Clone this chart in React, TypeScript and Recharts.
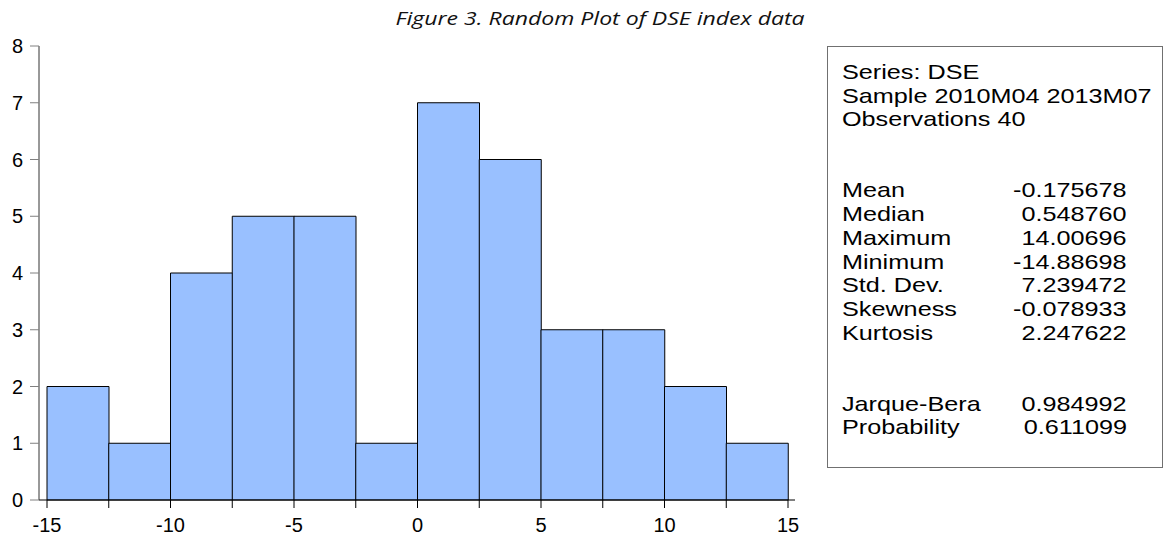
import { BarChart, Bar, XAxis, YAxis } from 'recharts';

const binLabels = ['-15', '-12.5', '-10', '-7.5', '-5', '-2.5', '0', '2.5', '5', '7.5', '10', '12.5'];
const binMids = [-13.75, -11.25, -8.75, -6.25, -3.75, -1.25, 1.25, 3.75, 6.25, 8.75, 11.25, 13.75];
const counts = [2, 1, 4, 5, 5, 1, 7, 6, 3, 3, 2, 1];

const xTicks = [-15, -12.5, -10, -7.5, -5, -2.5, 0, 2.5, 5, 7.5, 10, 12.5, 15];
const yTicks = [0, 1, 2, 3, 4, 5, 6, 7, 8];

const headerLines = ['Series: DSE', 'Sample 2010M04 2013M07', 'Observations 40'];
const statLabels = ['Mean', 'Median', 'Maximum', 'Minimum', 'Std. Dev.', 'Skewness', 'Kurtosis'];
const statValues = ['-0.175678', '0.548760', '14.00696', '-14.88698', '7.239472', '-0.078933', '2.247622'];
const testLabels = ['Jarque-Bera', 'Probability'];
const testValues = ['0.984992', '0.611099'];

const data = binLabels.map((bin, i) => ({ bin, mid: binMids[i], count: counts[i] }));

const LINE = 23.7;
const stretch = 'scaleX(1.2)';

const Row = ({ label, value }: { label: string; value?: string }) => (
	<div style={{ position: 'relative', height: LINE, lineHeight: `${LINE}px` }}>
		<span style={{ position: 'absolute', left: 0, transform: stretch, transformOrigin: 'left center', whiteSpace: 'nowrap' }}>
			{label}
		</span>
		{value && (
			<span style={{ position: 'absolute', right: 0, transform: stretch, transformOrigin: 'right center', whiteSpace: 'nowrap' }}>
				{value}
			</span>
		)}
	</div>
);

const StatsBox = () => (
	<div
		style={{
			position: 'absolute',
			left: 827,
			top: 46,
			width: 336,
			height: 422,
			boxSizing: 'border-box',
			border: '1px solid #707070',
			padding: '13px 35px 0 14px',
			fontFamily: '"Liberation Sans", Arial, sans-serif',
			fontSize: 21,
			color: '#000',
		}}>
		{headerLines.map((l) => (
			<Row key={l} label={l} />
		))}
		<div style={{ height: LINE * 2 }} />
		{statLabels.map((l, i) => (
			<Row key={l} label={l} value={statValues[i]} />
		))}
		<div style={{ height: LINE * 2 }} />
		{testLabels.map((l, i) => (
			<Row key={l} label={l} value={testValues[i]} />
		))}
	</div>
);

const tickStyle = { fontSize: 20, fill: '#000', fontFamily: '"Liberation Sans", Arial, sans-serif' };

export default function App() {
	return (
		<div style={{ position: 'absolute', left: 0, top: 0, width: 1164, height: 539, background: '#fff' }}>
			<div
				style={{
					position: 'absolute',
					left: 0,
					width: 1200,
					top: 6,
					textAlign: 'center',
					fontFamily: '"Open Sans", sans-serif',
					fontStyle: 'italic',
					fontSize: 18,
					color: '#111',
					transform: 'scaleX(1.28)',
					transformOrigin: '600px 0',
				}}>
				Figure 3. Random Plot of DSE index data
			</div>
			<BarChart
				width={1164}
				height={539}
				data={data}
				barCategoryGap={0}
				barGap={0}
				margin={{ top: 46, right: 369, bottom: 0, left: 0 }}>
				<XAxis xAxisId='bins' dataKey='bin' hide height={0} padding={{ left: 8, right: 7 }} />
				<XAxis
					xAxisId='num'
					dataKey='mid'
					type='number'
					domain={[-15, 15]}
					allowDataOverflow
					ticks={xTicks}
					interval={0}
					padding={{ left: 8, right: 7 }}
					height={39}
					tickSize={8}
					tickMargin={10}
					tick={tickStyle}
					tickFormatter={(v: number) => (v % 5 === 0 ? String(v) : '')}
					stroke='#000'
				/>
				<XAxis
					xAxisId='top'
					orientation='top'
					dataKey='mid'
					type='number'
					domain={[-15, 15]}
					height={0}
					tick={false}
					tickLine={false}
					stroke='#000'
				/>
				<YAxis
					yAxisId='left'
					domain={[0, 8]}
					ticks={yTicks}
					interval={0}
					width={39}
					tickSize={9}
					tickMargin={7}
					tick={tickStyle}
					tickLine={{ stroke: '#808080' }}
					axisLine={{ stroke: '#333' }}
				/>
				<YAxis
					yAxisId='right'
					orientation='right'
					domain={[0, 8]}
					width={0}
					tick={false}
					tickLine={false}
					stroke='#000'
				/>
				<Bar
					xAxisId='bins'
					yAxisId='left'
					dataKey='count'
					fill='#99c0ff'
					stroke='#000'
					strokeWidth={1}
					isAnimationActive={false}
				/>
			</BarChart>
			<StatsBox />
		</div>
	);
}
